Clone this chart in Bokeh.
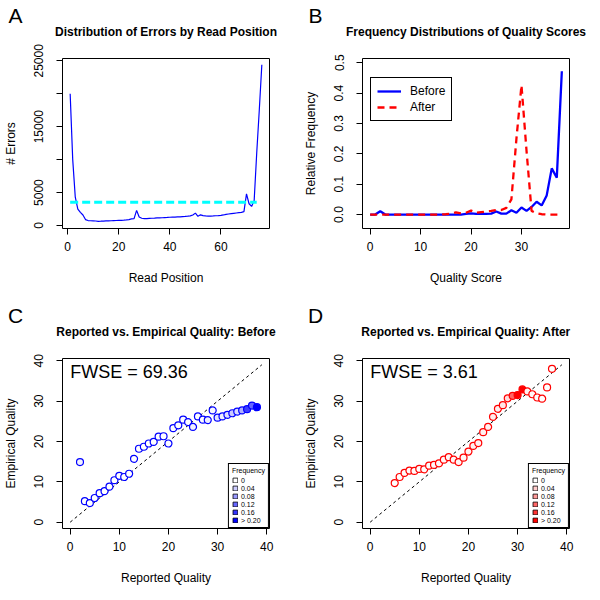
import math
from bokeh.plotting import figure
from bokeh.models import (Range1d, FixedTicker, Label, Legend, LegendItem,
                          PrintfTickFormatter)
from bokeh.layouts import column, row
from bokeh.embed import file_html
from bokeh.resources import INLINE

FONT = "Liberation Sans"

# ---------------- Panel A data ----------------
read_position = list(range(1, 77))
num_errors = [20000, 10000, 4300, 2500, 2000, 1600, 900, 750, 720, 700,
              680, 640, 650, 670, 690, 700, 720, 740, 760, 780,
              790, 810, 850, 900, 1000, 1050, 2300, 1300, 1100, 1050,
              1050, 1080, 1100, 1120, 1150, 1170, 1180, 1200, 1220, 1250,
              1270, 1280, 1300, 1320, 1350, 1380, 1420, 1470, 1600, 1880,
              1400, 1620, 1500, 1450, 1420, 1430, 1450, 1480, 1500, 1540,
              1600, 1700, 1750, 1800, 1850, 1900, 1950, 2000, 2100, 4800,
              3300, 2900, 3800, 11000, 17500, 24400]
mean_errors = 3540
mean_line_span = [1, 74]

# ---------------- Panel B data ----------------
quality_score = list(range(0, 39))
freq_before = [0, 0, 0.011, 0, 0, 0, 0, 0, 0, 0,
               0, 0, 0, 0, 0, 0, 0, 0, 0, 0.002,
               0.004, 0.002, 0.002, 0.002, 0.003, 0.01, 0.003, 0.003, 0.014, 0.006,
               0.023, 0.012, 0.025, 0.042, 0.03, 0.063, 0.152, 0.121, 0.472]
freq_after = [0, 0, 0, 0, 0, 0, 0, 0, 0, 0,
              0, 0, 0, 0, 0, 0.001, 0.003, 0.007, 0.004, 0.006,
              0.013, 0.006, 0.008, 0.01, 0.012, 0.015, 0.015, 0.022, 0.05, 0.25,
              0.426, 0.21, 0.012, 0.004, 0.001, 0, 0, 0, 0]

# ---------------- Panel C data ----------------
reported_before = list(range(2, 39))
empirical_before = [14.9, 5.2, 4.75, 6.0, 7.2, 7.7, 8.8, 10.4, 11.5, 11.2,
                    12.0, 15.7, 18.2, 18.7, 19.5, 19.9, 21.2, 21.3, 19.5, 23.3,
                    24.0, 25.4, 24.8, 23.6, 26.2, 25.4, 25.3, 27.7, 25.9, 26.2,
                    26.6, 27.0, 27.4, 27.7, 28.0, 28.9, 28.5]
point_freq_before = freq_before[2:]
fwse_before = "FWSE = 69.36"

# ---------------- Panel D data ----------------
reported_after = list(range(5, 38))
empirical_after = [9.7, 11.2, 12.2, 12.8, 12.7, 13.2, 13.1, 14.0, 14.2, 14.6,
                   15.5, 16.1, 15.5, 14.9, 16.0, 17.5, 18.9, 19.6, 22.3, 23.6,
                   26.1, 28.1, 29.0, 30.7, 31.3, 31.5, 32.9, 32.4, 31.7, 30.9,
                   30.6, 33.4, 38.0]
point_freq_after = [0.001, 0.001, 0.002, 0.002, 0.003, 0.003, 0.004, 0.004, 0.005, 0.005,
                    0.006, 0.006, 0.007, 0.007, 0.008, 0.01, 0.01, 0.01, 0.012, 0.012,
                    0.015, 0.015, 0.02, 0.03, 0.12, 0.3, 0.42, 0.01, 0.005, 0.002,
                    0.001, 0.001, 0.001]
fwse_after = "FWSE = 3.61"

identity_line = [0, 39]
legend_labels = ["0", "0.04", "0.08", "0.12", "0.16", "> 0.20"]
legend_levels = [0, 0.04, 0.08, 0.12, 0.16, 0.20]

BLUE = (0, 0, 255)
RED = (255, 0, 0)

W, H = 300, 300
LEFT, RIGHT, TOP, BOTTOM = 58, 31, 58, 72
FRAME_R = W - RIGHT
FRAME_B = H - BOTTOM


def ramp(base, f):
    t = min(f / 0.2, 1.0)
    r, g, b = [round(255 + (c - 255) * t) for c in base]
    return "#%02x%02x%02x" % (r, g, b)


def make_fig(xr, yr, title):
    p = figure(width=W, height=H, output_backend="svg", toolbar_location=None,
               x_range=Range1d(*xr), y_range=Range1d(*yr),
               min_border_left=LEFT, min_border_right=RIGHT,
               min_border_top=TOP, min_border_bottom=BOTTOM)
    p.outline_line_color = "black"
    p.outline_line_alpha = 1
    p.outline_line_width = 1
    p.grid.visible = False
    p.background_fill_color = "white"
    p.border_fill_color = "white"
    p.title.text = title
    p.title.text_font = FONT
    p.title.text_font_size = "12px"
    p.title.text_font_style = "bold"
    p.title.text_color = "black"
    p.title.align = "center"
    p.title.standoff = 40
    for ax in list(p.xaxis) + list(p.yaxis):
        ax.axis_line_color = None
        ax.major_tick_out = 6
        ax.major_tick_in = 0
        ax.minor_tick_out = 0
        ax.minor_tick_in = 0
        ax.major_tick_line_color = "black"
        ax.major_label_text_font = FONT
        ax.major_label_text_font_size = "12px"
        ax.major_label_text_color = "black"
        ax.axis_label_text_font = FONT
        ax.axis_label_text_font_size = "12px"
        ax.axis_label_text_font_style = "normal"
        ax.axis_label_text_color = "black"
        ax.major_label_standoff = 7
        ax.axis_label_standoff = 17
    p.yaxis.major_label_standoff = 13
    p.yaxis.axis_label_standoff = 14
    p.yaxis.major_label_orientation = "vertical"
    return p


def letter(p, txt):
    # panel letter in the top-left corner; hosted by the (otherwise empty) right
    # side panel whose origin is the frame's right/bottom edge
    p.add_layout(Label(text=txt, x=15 - FRAME_R, y=FRAME_B - 15,
                       x_units="screen", y_units="screen",
                       text_font=FONT, text_font_size="21px", text_color="black",
                       text_align="center", text_baseline="middle"), "right")


# ---------------- Panel A ----------------
pA = make_fig((-2, 79), (-455, 25350), "Distribution of Errors by Read Position")
pA.line(read_position, num_errors, line_color="#0000ff", line_width=1.2)
pA.line(mean_line_span, [mean_errors] * len(mean_line_span), line_color="#00ffff",
        line_width=3, line_dash="8 4")
pA.xaxis.ticker = FixedTicker(ticks=[0, 20, 40, 60])
pA.yaxis.ticker = FixedTicker(ticks=[0, 5000, 10000, 15000, 20000, 25000])
pA.yaxis.major_label_overrides = {10000: "", 20000: ""}
pA.xaxis.axis_label = "Read Position"
pA.yaxis.axis_label = "# Errors"
letter(pA, "A")

# ---------------- Panel B ----------------
pB = make_fig((-1.52, 39.52), (-0.046, 0.514), "Frequency Distributions of Quality Scores")
rb = pB.line(quality_score, freq_before, line_color="#0000ff", line_width=2.3)
ra = pB.line(quality_score, freq_after, line_color="#ff0000", line_width=2.3,
             line_dash="7 5")
pB.xaxis.ticker = FixedTicker(ticks=[0, 10, 20, 30])
pB.yaxis.ticker = FixedTicker(ticks=[0, 0.1, 0.2, 0.3, 0.4, 0.5])
pB.yaxis.formatter = PrintfTickFormatter(format="%.1f")
pB.xaxis.axis_label = "Quality Score"
pB.yaxis.axis_label = "Relative Frequency"
legB = Legend(items=[LegendItem(label="Before", renderers=[rb]),
                     LegendItem(label="After", renderers=[ra])],
              location=(8, 107), padding=6, spacing=2, glyph_width=24,
              glyph_height=12, label_height=12, label_standoff=9,
              label_text_font=FONT, label_text_font_size="12px",
              label_text_color="black",
              border_line_color="black", border_line_width=1, border_line_alpha=1,
              background_fill_color="white", background_fill_alpha=1, margin=0)
pB.add_layout(legB)
letter(pB, "B")


def quality_panel(title, xs, ys, freqs, base, fwse, col):
    p = make_fig((-1.56, 40.56), (-1.56, 40.56), title)
    p.line(identity_line, identity_line, line_color="black", line_width=1,
           line_dash="3 3")
    fills = [ramp(base, f) for f in freqs]
    p.scatter(xs, ys, marker="circle", size=7, fill_color=fills, line_color=col,
              line_width=1.2)
    p.xaxis.ticker = FixedTicker(ticks=[0, 10, 20, 30, 40])
    p.yaxis.ticker = FixedTicker(ticks=[0, 10, 20, 30, 40])
    p.xaxis.axis_label = "Reported Quality"
    p.yaxis.axis_label = "Empirical Quality"
    p.add_layout(Label(x=0, y=37.2, text=fwse, text_font=FONT, text_font_size="18px",
                       text_color="black", text_align="left", text_baseline="middle"))
    items = []
    for lab, lev in zip(legend_labels, legend_levels):
        r = p.rect(x=[math.nan], y=[math.nan], width=1, height=1,
                   fill_color=ramp(base, lev), line_color="black", line_width=0.8)
        items.append(LegendItem(label=lab, renderers=[r]))
    leg = Legend(items=items, title="Frequency", location="bottom_right", margin=0,
                 padding=3, spacing=0, glyph_width=6, glyph_height=6, label_height=8,
                 label_standoff=3, label_text_font=FONT, label_text_font_size="7px",
                 label_text_color="black",
                 title_text_font=FONT, title_text_font_size="7px",
                 title_text_font_style="normal", title_text_color="black",
                 title_standoff=2,
                 border_line_color="black", border_line_width=1, border_line_alpha=1,
                 background_fill_color="white", background_fill_alpha=1)
    p.add_layout(leg)
    return p


pC = quality_panel("Reported vs. Empirical Quality: Before",
                   reported_before, empirical_before, point_freq_before, BLUE,
                   fwse_before, "#0000ff")
letter(pC, "C")
pD = quality_panel("Reported vs. Empirical Quality: After",
                   reported_after, empirical_after, point_freq_after, RED,
                   fwse_after, "#ff0000")
letter(pD, "D")

layout = column(row(pA, pB), row(pC, pD))
open("out.html", "w").write(file_html(layout, INLINE))
